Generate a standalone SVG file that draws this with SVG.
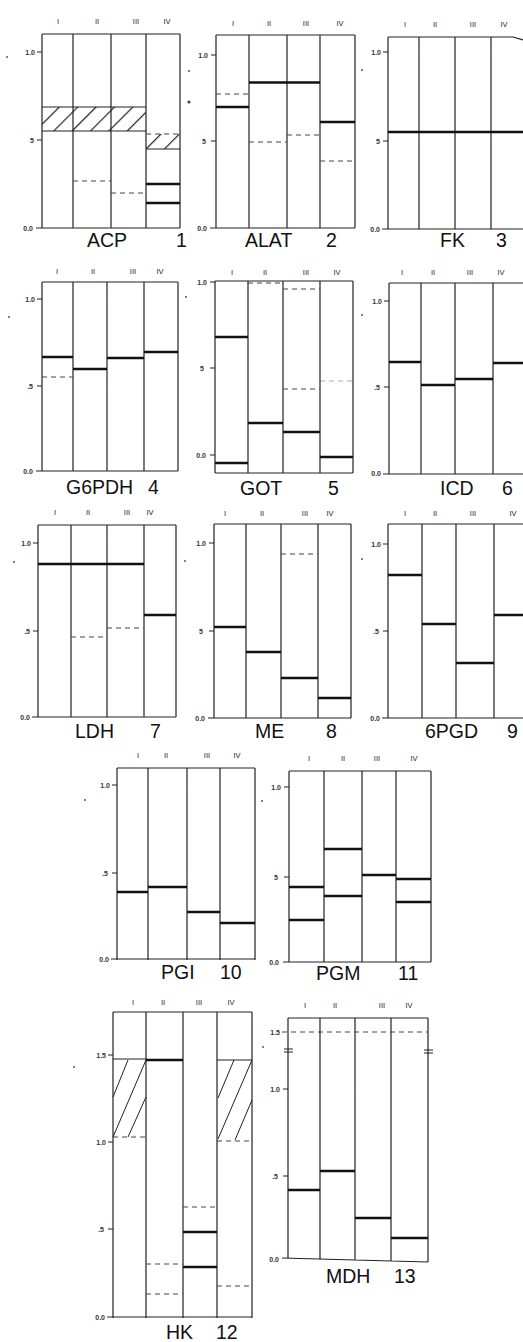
<svg xmlns="http://www.w3.org/2000/svg" width="523" height="1342" viewBox="0 0 523 1342">
<defs>
<pattern id="hatch" patternUnits="userSpaceOnUse" width="13" height="13" patternTransform="rotate(45)">
<line x1="0.6" y1="0" x2="0.6" y2="13" stroke="#222" stroke-width="1.2"/>
</pattern>
<style>
.f{stroke:#222;stroke-width:1.2;fill:none}
.b{stroke:#111;stroke-width:2.6}
.d{stroke:#444;stroke-width:1;stroke-dasharray:5 4}
.h{stroke:#222;stroke-width:1;fill:none}
.ln{font-family:"Liberation Sans",sans-serif;font-size:7.5px;fill:#222;text-anchor:middle}
.tk{font-family:"Liberation Sans",sans-serif;font-size:7px;font-weight:bold;fill:#333;text-anchor:end}
.tt{font-family:"Liberation Sans",sans-serif;font-size:19.5px;fill:#111}
.sp{fill:#444}
</style>
</defs>
<rect width="523" height="1342" fill="#fff"/>

<g id="acp">
<path class="f" d="M42,34H180 M42,34V228 M73,34V228 M111,34V228 M146,34V228 M180,34V228 M36,228H180 M37,52H42 M37,140H42"/>
<rect x="42" y="107" width="104" height="24" fill="url(#hatch)"/>
<path class="h" d="M42,107H146 M42,131H146"/>
<rect x="146" y="134" width="34" height="15" fill="url(#hatch)"/>
<path class="d" d="M146,134H180"/>
<path class="h" d="M146,149H180"/>
<path class="d" d="M73,181H111 M111,193H146"/>
<path class="b" d="M146,184H180 M146,203H180"/>
<text class="tk" x="35" y="55">1.0</text><text class="tk" x="34" y="143">5</text><text class="tk" x="33" y="231">0.0</text>
<text class="ln" x="58" y="24">I</text><text class="ln" x="97" y="24">II</text><text class="ln" x="136" y="24">III</text><text class="ln" x="167" y="24">IV</text>
<circle class="sp" cx="7" cy="57" r="0.9"/>
<text class="tt" x="87" y="247">ACP</text><text class="tt" x="176" y="247">1</text>
</g>

<g id="alat">
<path class="f" d="M216,35H355 M216,35V228 M249,35V228 M287,35V228 M320,35V228 M355,35V228 M210,228H355 M211,55H216 M211,141H216"/>
<path class="b" d="M216,107H249 M249,82.5H320 M320,122H355"/>
<path class="d" d="M216,94H249 M249,142H287 M287,135H320 M320,161H355"/>
<text class="tk" x="208" y="58">1.0</text><text class="tk" x="206" y="144">5</text><text class="tk" x="207" y="231">0.0</text>
<text class="ln" x="233" y="26">I</text><text class="ln" x="269" y="26">II</text><text class="ln" x="306" y="26">III</text><text class="ln" x="340" y="26">IV</text>
<circle class="sp" cx="189" cy="71" r="0.9"/><circle class="sp" cx="189" cy="102" r="1.6"/>
<text class="tt" x="245" y="247">ALAT</text><text class="tt" x="326" y="247">2</text>
</g>

<g id="fk">
<path class="f" d="M388,37H513L523,40 M388,37V229 M419,37V229 M455,37V229 M491,37V229 M382,229H523 M383,52H388 M383,141H388"/>
<path class="b" d="M388,132H523"/>
<text class="tk" x="381" y="55">1.0</text><text class="tk" x="380" y="144">5</text><text class="tk" x="380" y="232">0.0</text>
<text class="ln" x="405" y="27">I</text><text class="ln" x="435" y="27">II</text><text class="ln" x="473" y="27">III</text><text class="ln" x="504" y="27">IV</text>
<circle class="sp" cx="362" cy="70" r="0.9"/>
<text class="tt" x="440" y="247">FK</text><text class="tt" x="496" y="247">3</text>
</g>

<g id="g6pdh">
<path class="f" d="M42,282H178 M42,282V471 M73,282V471 M107,282V471 M144,282V471 M178,282V471 M36,471H178 M37,299H42 M37,386H42"/>
<path class="b" d="M42,357H73 M73,369H107 M107,358H144 M144,352H178"/>
<path class="d" d="M42,377H73"/>
<text class="tk" x="35" y="302">1.0</text><text class="tk" x="33" y="389">.5</text><text class="tk" x="33" y="474">0.0</text>
<text class="ln" x="57" y="274">I</text><text class="ln" x="93" y="274">II</text><text class="ln" x="133" y="274">III</text><text class="ln" x="160" y="274">IV</text>
<circle class="sp" cx="9" cy="317" r="0.9"/>
<text class="tt" x="66" y="494">G6PDH</text><text class="tt" x="148" y="494">4</text>
</g>

<g id="got">
<path class="f" d="M215,281H353 M215,281V473 M248,281V473 M283,281V473 M320,281V473 M353,281V473 M215,473H353 M210,282H215 M210,368H215 M210,455H215"/>
<path class="b" d="M215,337H248 M215,463H248 M248,423H283 M283,432H320 M320,457H353"/>
<path class="d" d="M248,283H283 M283,289H320 M283,389H320"/>
<path class="d" d="M320,381H353" stroke-opacity="0.45"/>
<text class="tk" x="207" y="285">1.0</text><text class="tk" x="204" y="371">5</text><text class="tk" x="206" y="458">0.0</text>
<text class="ln" x="232" y="275">I</text><text class="ln" x="265" y="275">II</text><text class="ln" x="306" y="275">III</text><text class="ln" x="337" y="275">IV</text>
<circle class="sp" cx="186" cy="297" r="0.9"/>
<text class="tt" x="240" y="495">GOT</text><text class="tt" x="328" y="495">5</text>
</g>

<g id="icd">
<path class="f" d="M389,283H523 M389,283V474 M421,283V474 M455,283V474 M493,283V474 M383,474H523 M384,301H389 M384,387H389"/>
<path class="b" d="M389,362H421 M421,385H455 M455,379H493 M493,363H523"/>
<text class="tk" x="382" y="304">1.0</text><text class="tk" x="380" y="390">.5</text><text class="tk" x="381" y="476">0.0</text>
<text class="ln" x="402" y="275">I</text><text class="ln" x="433" y="275">II</text><text class="ln" x="470" y="275">III</text><text class="ln" x="501" y="275">IV</text>
<circle class="sp" cx="362" cy="315" r="0.9"/>
<text class="tt" x="440" y="495">ICD</text><text class="tt" x="502" y="495">6</text>
</g>

<g id="ldh">
<path class="f" d="M38,525H176 M38,525V717 M71,525V717 M107,525V717 M144,525V717 M176,525V717 M32,717H176 M33,543H38 M33,631H38"/>
<path class="b" d="M38,564H144 M144,615H176"/>
<path class="d" d="M71,637H107 M107,628H144"/>
<text class="tk" x="31" y="546">1.0</text><text class="tk" x="30" y="634">.5</text><text class="tk" x="30" y="720">0.0</text>
<text class="ln" x="55" y="515">I</text><text class="ln" x="88" y="515">II</text><text class="ln" x="127" y="515">III</text><text class="ln" x="150" y="515">IV</text>
<circle class="sp" cx="14" cy="562" r="0.9"/>
<text class="tt" x="75" y="738">LDH</text><text class="tt" x="150" y="738">7</text>
</g>

<g id="me">
<path class="f" d="M214,524H351 M214,524V718 M246,524V718 M281,524V718 M318,524V718 M351,524V718 M208,718H351 M209,543H214 M209,631H214"/>
<path class="b" d="M214,627H246 M246,652H281 M281,678H318 M318,698H351"/>
<path class="d" d="M281,554H318"/>
<text class="tk" x="206" y="546">1.0</text><text class="tk" x="203" y="634">5</text><text class="tk" x="205" y="721">0.0</text>
<text class="ln" x="225" y="516">I</text><text class="ln" x="262" y="516">II</text><text class="ln" x="305" y="516">III</text><text class="ln" x="330" y="516">IV</text>
<circle class="sp" cx="185" cy="561" r="0.9"/>
<text class="tt" x="255" y="738">ME</text><text class="tt" x="326" y="738">8</text>
</g>

<g id="pgd6">
<path class="f" d="M388,524H523 M388,524V718 M422,524V718 M456,524V718 M494,524V718 M382,718H523 M383,544H388 M383,631H388"/>
<path class="b" d="M388,575H422 M422,624H456 M456,663H494 M494,615H523"/>
<text class="tk" x="381" y="547">1.0</text><text class="tk" x="379" y="634">.5</text><text class="tk" x="380" y="721">0.0</text>
<text class="ln" x="405" y="516">I</text><text class="ln" x="435" y="516">II</text><text class="ln" x="473" y="516">III</text><text class="ln" x="513" y="516">IV</text>
<circle class="sp" cx="362" cy="559" r="0.9"/>
<text class="tt" x="425" y="738">6PGD</text><text class="tt" x="507" y="738">9</text>
</g>

<g id="pgi">
<path class="f" d="M117,768H255 M117,768V960 M148,768V960 M187,768V960 M220,768V960 M255,768V960 M111,959H255 M112,785H117 M112,873H117"/>
<path class="b" d="M117,892H148 M148,887H187 M187,912H220 M220,923H255"/>
<text class="tk" x="110" y="788">1.0</text><text class="tk" x="108" y="876">.5</text><text class="tk" x="109" y="962">0.0</text>
<text class="ln" x="138" y="758">I</text><text class="ln" x="166" y="758">II</text><text class="ln" x="207" y="758">III</text><text class="ln" x="237" y="758">IV</text>
<circle class="sp" cx="85" cy="800" r="0.9"/>
<text class="tt" x="161" y="979">PGI</text><text class="tt" x="220" y="979">10</text>
</g>

<g id="pgm">
<path class="f" d="M289,771H431 M289,771V962 M324,771V962 M362,771V962 M396,771V962 M431,771V962 M283,962H431 M284,787H289 M284,877H289"/>
<path class="b" d="M289,887H324 M289,920H324 M324,849H362 M324,896H362 M362,875H396 M396,879H431 M396,902H431"/>
<text class="tk" x="281" y="790">1.0</text><text class="tk" x="278" y="880">5</text><text class="tk" x="279" y="965">0.0</text>
<text class="ln" x="309" y="761">I</text><text class="ln" x="343" y="761">II</text><text class="ln" x="377" y="761">III</text><text class="ln" x="414" y="761">IV</text>
<circle class="sp" cx="262" cy="801" r="0.9"/>
<text class="tt" x="316" y="980">PGM</text><text class="tt" x="398" y="980">11</text>
</g>

<g id="hk">
<path class="f" d="M113,1012H252 M113,1012V1318 M146,1012V1318 M183,1012V1318 M217,1012V1318 M252,1012V1318 M107,1317H252 M108,1055H113 M108,1142H113 M108,1229H113"/>
<path class="h" d="M113,1059H146 M217,1060H252 M113,1097L128,1060 M113,1137L146,1060 M128,1137L146,1097 M218,1098L234,1060 M218,1139L252,1060 M235,1140L252,1100"/>
<path class="d" d="M113,1137H146 M217,1141H252"/>
<path class="b" d="M146,1060H183 M183,1232H217 M183,1267H217"/>
<path class="d" d="M146,1264H183 M146,1294H183 M183,1207H217 M217,1286H252"/>
<text class="tk" x="106" y="1058">1.5</text><text class="tk" x="106" y="1145">1.0</text><text class="tk" x="104" y="1232">.5</text><text class="tk" x="105" y="1320">0.0</text>
<text class="ln" x="133" y="1005">I</text><text class="ln" x="163" y="1005">II</text><text class="ln" x="199" y="1005">III</text><text class="ln" x="231" y="1005">IV</text>
<circle class="sp" cx="74" cy="1067" r="0.9"/>
<text class="tt" x="166" y="1339">HK</text><text class="tt" x="216" y="1339">12</text>
</g>

<g id="mdh">
<path class="f" d="M288,1018H428 M288,1018V1258 M320,1018V1259 M355,1018V1260 M391,1018V1261 M428,1018V1262 M282,1258L428,1262 M283,1089H288 M283,1176H288"/>
<path class="d" d="M282,1032H428"/>
<path class="h" d="M284,1049H293 M284,1052H293 M424,1050H433 M424,1053H433"/>
<path class="b" d="M288,1190H320 M320,1171H355 M355,1218H391 M391,1238H428"/>
<text class="tk" x="280" y="1035">1.5</text><text class="tk" x="280" y="1092">1.0</text><text class="tk" x="278" y="1179">.5</text><text class="tk" x="279" y="1262">0.0</text>
<text class="ln" x="305" y="1008">I</text><text class="ln" x="335" y="1008">II</text><text class="ln" x="382" y="1008">III</text><text class="ln" x="409" y="1008">IV</text>
<circle class="sp" cx="263" cy="1047" r="0.9"/>
<text class="tt" x="326" y="1283">MDH</text><text class="tt" x="394" y="1283">13</text>
</g>
</svg>
